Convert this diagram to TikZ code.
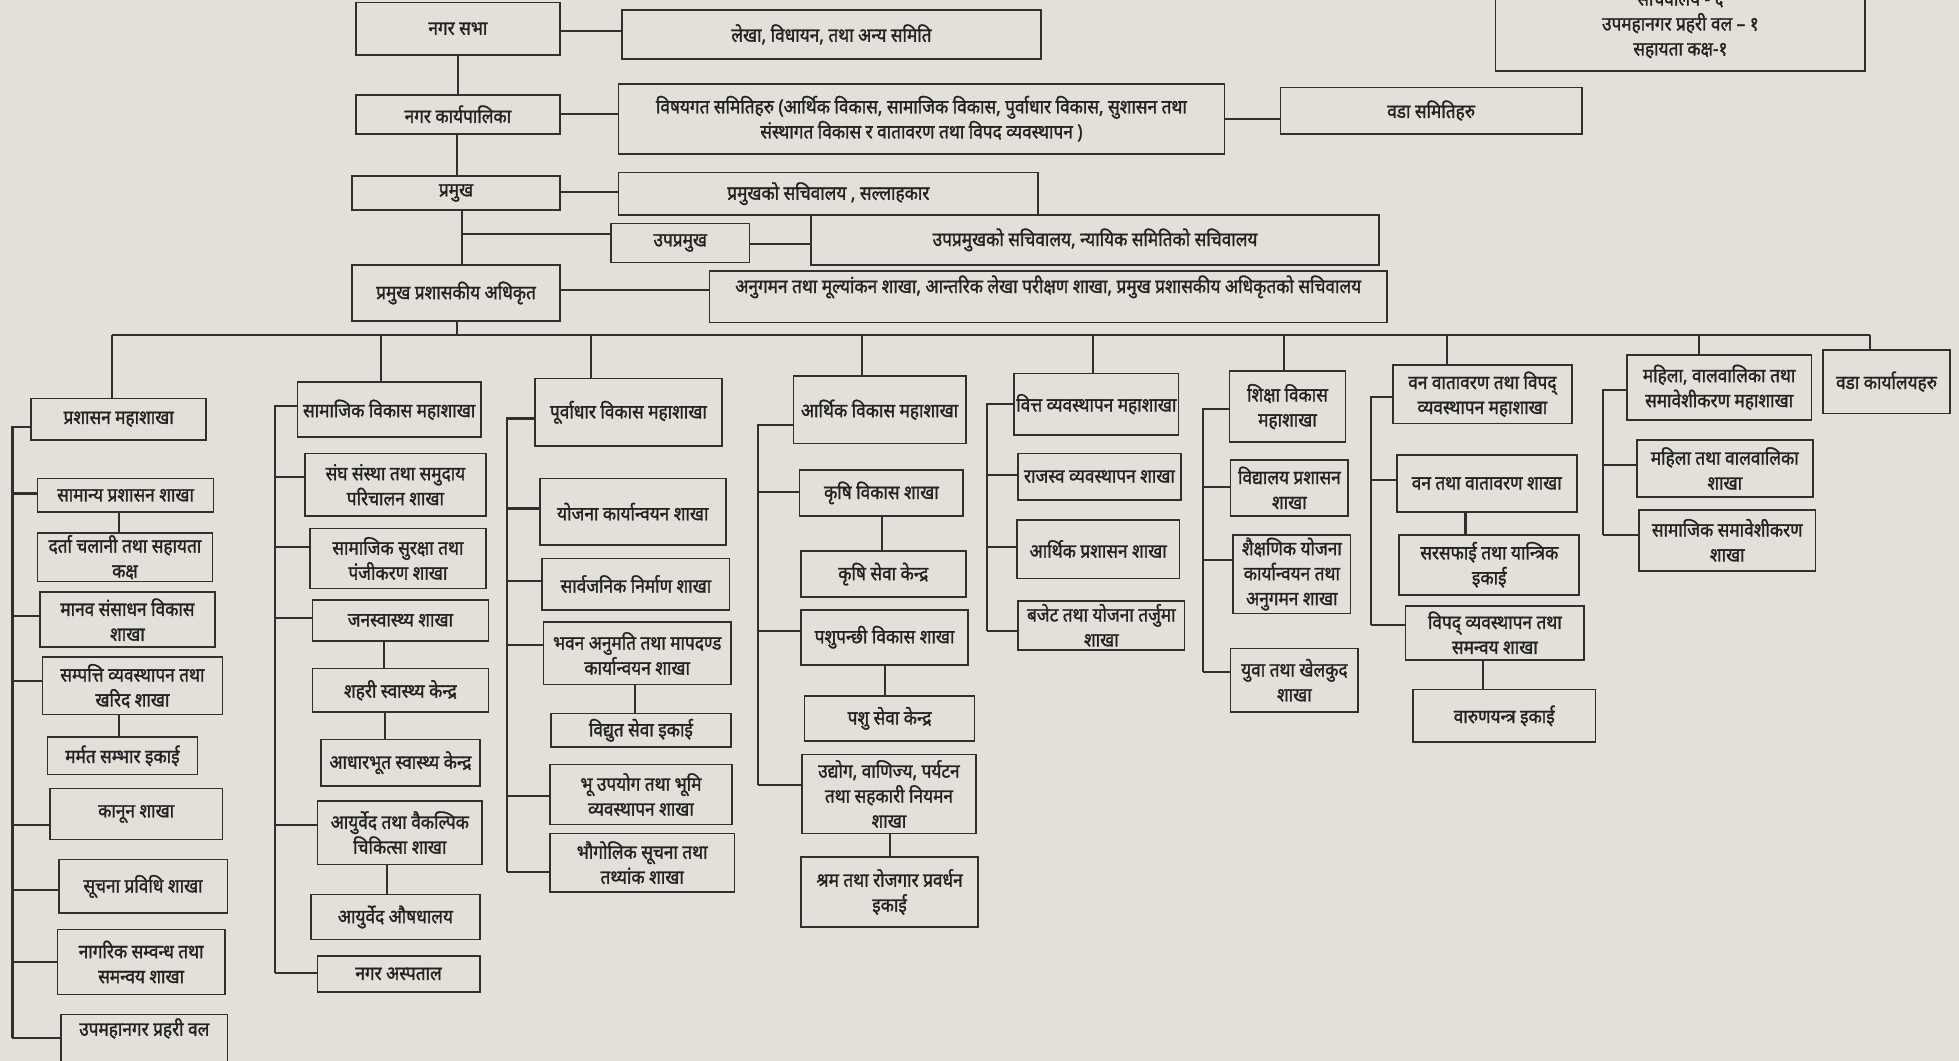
\documentclass[tikz,border=0pt]{standalone}
\usepackage{fontspec}
\newfontfamily\dev[Script=Devanagari,FakeStretch=0.88,FakeBold=1.4]{Noto Sans}
\definecolor{paper}{HTML}{E3E0D9}
\definecolor{ink}{HTML}{222222}
\definecolor{linec}{HTML}{303030}
\tikzset{
  bx/.style={draw=linec, line width=0.8pt, align=center, inner sep=1pt, text=ink,
    font=\dev\fontsize{9.4}{12}\selectfont},
  cn/.style={draw=linec, line width=1pt}
}
\newcommand{\bx}[7][]{\node[bx,#1, minimum width={(#5-#3)*0.6pt}, minimum height={(#6-#4)*0.6pt}] (#2) at ({(#3+#5)/2},{(#4+#6)/2}) {#7};}
\newcommand{\br}[3]{\draw[cn] (#1,#2) -- (#3.west |- 0,#2);}
\newcommand{\vc}[3]{\draw[cn] (#1.south -| #3,0) -- (#2.north -| #3,0);}
\newcommand{\hc}[3]{\draw[cn] (#1.east |- 0,#3) -- (#2.west |- 0,#3);}
\newcommand{\dropto}[2]{\draw[cn] (#1,268) -- (#2.north -| #1,0);}
\begin{document}
\begin{tikzpicture}[x=0.6pt,y=-0.6pt]
\fill[paper] (0,0) rectangle (1568,849);
\useasboundingbox (0,0) rectangle (1568,849);
% top
\bx{n1}{285}{2}{448}{44}{नगर सभा}
\bx{n1r}{498}{8}{833}{47}{लेखा, विधायन, तथा अन्य  समिति}
\bx{n2}{285}{76}{448}{107}{नगर कार्यपालिका}
\bx{n2r}{495}{67}{980}{123}{विषयगत समितिहरु (आर्थिक विकास, सामाजिक विकास, पुर्वाधार विकास, सुशासन तथा\\संस्थागत विकास र वातावरण तथा विपद व्यवस्थापन )}
\bx{n2rr}{1025}{70}{1266}{107}{वडा समितिहरु}
\bx{n3}{282}{141}{448}{168}{प्रमुख}
\bx{n3r}{495}{138}{831}{172}{प्रमुखको सचिवालय , सल्लाहकार}
\bx{n4}{489}{179}{600}{210}{उपप्रमुख}
\bx{n4r}{649}{172}{1104}{212}{उपप्रमुखको सचिवालय, न्यायिक समितिको सचिवालय}
\bx{n5}{282}{212}{448}{257}{प्रमुख प्रशासकीय अधिकृत}
\bx{n5r}{568}{217}{1110}{258}{अनुगमन तथा मूल्यांकन शाखा, आन्तरिक लेखा परीक्षण शाखा, प्रमुख प्रशासकीय अधिकृतको सचिवालय\\\mbox{}}
\bx{tr}{1197}{-20}{1493}{57}{सचिवालय - ६\\उपमहानगर प्रहरी वल – १\\सहायता कक्ष-१}
\draw[cn] (n1.south) -- (n2.north);
\draw[cn] (n2.south -| 366,0) -- (n3.north -| 366,0);
\draw[cn] (n3.south -| 370,0) -- (n5.north -| 370,0);
\draw[cn] (370,187) -- (n4.west |- 0,187);
\hc{n1}{n1r}{25}
\hc{n2}{n2r}{91}
\hc{n2r}{n2rr}{95}
\hc{n3}{n3r}{154}
\hc{n4}{n4r}{195}
\hc{n5}{n5r}{232}
% heads
\bx{h1}{25}{319}{165}{352}{प्रशासन महाशाखा}
\bx{h2}{238}{306}{385}{350}{सामाजिक विकास महाशाखा}
\bx{h3}{428}{303}{578}{357}{पूर्वाधार विकास महाशाखा}
\bx{h4}{635}{301}{773}{355}{आर्थिक विकास महाशाखा}
\bx{h5}{815}{299}{940}{348}{वित्त व्यवस्थापन महाशाखा}
\bx{h6}{984}{297}{1077}{354}{शिक्षा विकास\\महाशाखा}
\bx{h7}{1115}{292}{1258}{339}{वन वातावरण तथा  विपद्\\व्यवस्थापन महाशाखा}
\bx{h8}{1302}{284}{1450}{336}{महिला, वालवालिका तथा\\समावेशीकरण  महाशाखा}
\bx{h9}{1459}{280}{1561}{331}{वडा कार्यालयहरु}
\coordinate (busL) at (90,268);
\coordinate (busR) at (1497,268);
\draw[cn] (n5.south -| 366,0) -- (366,268);
\draw[cn] (busL) -- (busR);
\dropto{90}{h1}\dropto{305}{h2}\dropto{473}{h3}\dropto{690}{h4}\dropto{875}{h5}
\dropto{1028}{h6}\dropto{1158}{h7}\dropto{1360}{h8}\dropto{1497}{h9}
% column 1
\bx{a1}{30}{383}{171}{410}{सामान्य प्रशासन शाखा}
\bx{a2}{30}{427}{170}{465}{दर्ता चलानी तथा सहायता\\कक्ष}
\bx{a3}{32}{474}{172}{518}{मानव संसाधन विकास\\शाखा}
\bx{a4}{34}{526}{178}{572}{सम्पत्ति व्यवस्थापन तथा\\खरिद शाखा}
\bx{a5}{38}{590}{158}{620}{मर्मत सम्भार इकाई}
\bx{a6}{40}{631}{178}{672}{कानून  शाखा}
\bx{a7}{47}{688}{182}{731}{सूचना  प्रविधि शाखा}
\bx{a8}{46}{744}{180}{796}{नागरिक सम्वन्ध तथा\\समन्वय शाखा}
\bx{a9}{49}{812}{182}{872}{उपमहानगर प्रहरी वल\\\mbox{}\\\mbox{}}
\draw[cn] (h1.west |- 0,342) -- (10,342) -- (10,831);
\br{10}{395}{a1}\br{10}{493}{a3}\br{10}{545}{a4}\br{10}{660}{a6}
\br{10}{712}{a7}\br{10}{770}{a8}\br{10}{831}{a9}
\vc{a1}{a2}{95}\vc{a4}{a5}{95}
% column 2
\bx{b1}{244}{363}{389}{413}{संघ संस्था  तथा  समुदाय\\परिचालन शाखा}
\bx{b2}{248}{423}{389}{471}{सामाजिक सुरक्षा तथा\\पंजीकरण  शाखा}
\bx{b3}{250}{480}{391}{513}{जनस्वास्थ्य शाखा}
\bx{b4}{250}{535}{391}{570}{शहरी स्वास्थ्य केन्द्र}
\bx{b5}{257}{592}{384}{629}{आधारभूत स्वास्थ्य केन्द्र}
\bx{b6}{254}{641}{386}{692}{आयुर्वेद तथा वैकल्पिक\\चिकित्सा शाखा}
\bx{b7}{249}{716}{384}{752}{आयुर्वेद औषधालय}
\bx{b8}{254}{765}{384}{794}{नगर अस्पताल}
\draw[cn] (h2.west |- 0,325) -- (220,325) -- (220,779);
\br{220}{382}{b1}\br{220}{438}{b2}\br{220}{495}{b3}\br{220}{660}{b6}\br{220}{779}{b8}
\vc{b3}{b4}{307}\vc{b4}{b5}{308}\vc{b6}{b7}{310}
% column 3
\bx{c1}{432}{383}{581}{436}{योजना कार्यान्वयन शाखा}
\bx{c2}{434}{447}{584}{488}{सार्वजनिक निर्माण शाखा}
\bx{c3}{435}{498}{585}{548}{भवन अनुमति तथा मापदण्ड\\कार्यान्वयन शाखा}
\bx{c4}{441}{571}{585}{598}{विद्युत सेवा इकाई}
\bx{c5}{440}{612}{586}{660}{भू उपयोग तथा भूमि\\व्यवस्थापन शाखा}
\bx{c6}{440}{667}{588}{714}{भौगोलिक सूचना तथा\\तथ्यांक शाखा}
\draw[cn] (h3.west |- 0,335) -- (406,335) -- (406,698);
\br{406}{407}{c1}\br{406}{465}{c2}\br{406}{516}{c3}\br{406}{637}{c5}\br{406}{698}{c6}
\vc{c3}{c4}{508}
% column 4
\bx{d1}{640}{376}{771}{413}{कृषि विकास शाखा}
\bx{d2}{641}{441}{773}{478}{कृषि सेवा केन्द्र}
\bx{d3}{641}{488}{775}{532}{पशुपन्छी विकास शाखा}
\bx{d4}{644}{557}{780}{593}{पशु  सेवा केन्द्र}
\bx{d5}{642}{604}{781}{667}{उद्योग, वाणिज्य, पर्यटन\\तथा सहकारी नियमन\\शाखा}
\bx{d6}{641}{686}{783}{742}{श्रम तथा रोजगार प्रवर्धन\\इकाई}
\draw[cn] (h4.west |- 0,340) -- (607,340) -- (607,628);
\br{607}{394}{d1}\br{607}{505}{d3}\br{607}{628}{d5}
\vc{d1}{d2}{706}\vc{d3}{d4}{708}\vc{d5}{d6}{712}
% column 5
\bx{e1}{815}{363}{945}{400}{राजस्व व्यवस्थापन  शाखा}
\bx{e2}{814}{416}{944}{463}{आर्थिक प्रशासन शाखा}
\bx{e3}{815}{481}{948}{520}{बजेट तथा योजना तर्जुमा\\शाखा}
\draw[cn] (h5.west |- 0,323) -- (790,323) -- (790,505);
\br{790}{380}{e1}\br{790}{438}{e2}\br{790}{505}{e3}
% column 6
\bx{f1}{985}{368}{1079}{413}{विद्यालय प्रशासन\\शाखा}
\bx{f2}{987}{428}{1081}{491}{शैक्षणिक योजना\\कार्यान्वयन तथा\\अनुगमन शाखा}
\bx{f3}{985}{519}{1087}{570}{युवा  तथा खेलकुद\\शाखा}
\draw[cn] (h6.west |- 0,327) -- (963,327) -- (963,538);
\br{963}{390}{f1}\br{963}{448}{f2}\br{963}{538}{f3}
% column 7
\bx{g1}{1118}{364}{1262}{410}{वन तथा वातावरण शाखा}
\bx{g2}{1120}{428}{1264}{476}{सरसफाई तथा यान्त्रिक\\इकाई}
\bx{g3}{1125}{485}{1268}{528}{विपद् व्यवस्थापन तथा\\समन्वय शाखा}
\bx{g4}{1131}{552}{1277}{594}{वारुणयन्त्र इकाई}
\draw[cn] (h7.west |- 0,318) -- (1097,318) -- (1097,500);
\br{1097}{384}{g1}\br{1097}{500}{g3}
\vc{g1}{g2}{1173}\vc{g3}{g4}{1187}
% column 8
\bx{k1}{1310}{352}{1451}{398}{महिला तथा वालवालिका\\शाखा}
\bx{k2}{1312}{408}{1453}{457}{सामाजिक समावेशीकरण\\शाखा}
\draw[cn] (h8.west |- 0,312) -- (1283,312) -- (1283,428);
\br{1283}{372}{k1}\br{1283}{428}{k2}
\end{tikzpicture}
\end{document}
